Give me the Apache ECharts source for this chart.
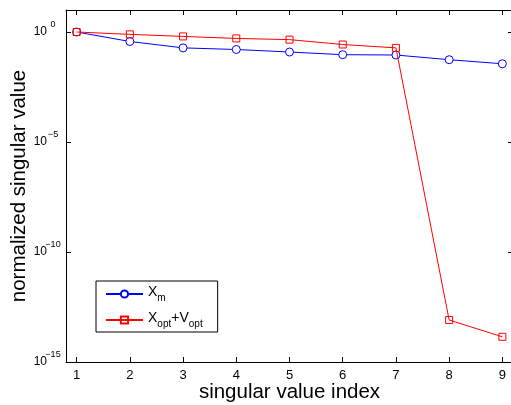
<!DOCTYPE html>
<html>
<head>
<meta charset="utf-8">
<style>
  html, body { margin: 0; padding: 0; background: #fff; }
  #chart { width: 511px; height: 405px; }
</style>
<script src="https://cdn.jsdelivr.net/npm/echarts@6/dist/echarts.min.js"></script>
</head>
<body>
<div id="chart"></div>
<script>
// singular value index
const indices = [1, 2, 3, 4, 5, 6, 7, 8, 9];
// normalized singular values of X_m
const xmValues = [1, 0.37, 0.19, 0.16, 0.123, 0.093, 0.09, 0.055, 0.036];
// normalized singular values of X_opt + V_opt
const xoptValues = [1, 0.78, 0.63, 0.51, 0.45, 0.27, 0.19, 8.1e-14, 1.4e-14];
// decades that carry a tick and label on the y axis
const yTickValues = [1e-15, 1e-10, 1e-5, 1];
const xTickLabels = ['1', '2', '3', '4', '5', '6', '7', '8', '9'];

const FONT = "'Liberation Sans', Arial, Helvetica, sans-serif";

const pairs = (vals) => indices.map((x, i) => [x, vals[i]]);

const legendNames = {
  'X_m': '{b|X}{s|m}',
  'X_opt+V_opt': '{b|X}{s|opt}{b|+V}{s|opt}'
};

const chart = echarts.init(document.getElementById('chart'), null, { renderer: 'canvas' });

const xCommon = {
  type: 'value',
  min: 0.8,
  max: 9.2,
  splitLine: { show: false },
  axisLine: { show: true, onZero: false, lineStyle: { color: '#000', width: 1 } },
  axisTick: { show: true, inside: true, length: 5, customValues: indices, lineStyle: { color: '#000' } }
};
const yCommon = {
  type: 'log',
  logBase: 10,
  min: 1e-15,
  max: 1e1,
  splitLine: { show: false },
  minorTick: { show: false },
  axisLine: { show: true, onZero: false, lineStyle: { color: '#000', width: 1 } },
  axisTick: { show: true, inside: true, length: 5, customValues: yTickValues, lineStyle: { color: '#000' } }
};

chart.setOption({
  animation: false,
  backgroundColor: '#fff',
  textStyle: { fontFamily: FONT },
  grid: { left: 66, top: 10, width: 447, height: 352, containLabel: false, outerBoundsMode: 'none' },
  xAxis: [
    Object.assign({}, xCommon, {
      position: 'bottom',
      name: 'singular value index',
      nameLocation: 'middle',
      nameGap: 20,
      nameMoveOverlap: false,
      nameTextStyle: { fontSize: 20.5, color: '#000', fontFamily: FONT },
      axisLabel: {
        show: true, margin: 7, fontSize: 13, color: '#000', fontFamily: FONT,
        customValues: indices,
        formatter: (v) => xTickLabels[indices.indexOf(Math.round(v))]
      }
    }),
    Object.assign({}, xCommon, {
      position: 'top',
      axisLabel: { show: false }
    })
  ],
  yAxis: [
    Object.assign({}, yCommon, {
      position: 'left',
      name: 'normalized singular value',
      nameLocation: 'middle',
      nameGap: 36.5,
      nameMoveOverlap: false,
      nameTextStyle: { fontSize: 20.5, color: '#000', fontFamily: FONT, verticalAlign: 'bottom' },
      axisLabel: {
        show: true, margin: 7, color: '#000', fontFamily: FONT,
        customValues: yTickValues,
        formatter: (v) => {
          const e = Math.round(Math.log10(v));
          const exp = e < 0 ? '\u2212' + (-e) : String(e);
          return '{m|10}{s|' + exp + '}';
        },
        rich: {
          m: { fontSize: 12, lineHeight: 24, color: '#000', fontFamily: FONT },
          s: { fontSize: 9, verticalAlign: 'top', width: 12, align: 'left', color: '#000', fontFamily: FONT }
        }
      }
    }),
    Object.assign({}, yCommon, {
      position: 'right',
      axisLine: { show: false },
      axisLabel: { show: false }
    })
  ],
  legend: {
    orient: 'vertical',
    left: 96,
    top: 281,
    padding: [4, 15, 3, 9],
    itemGap: 8,
    itemWidth: 37,
    itemHeight: 9,
    backgroundColor: '#fff',
    borderColor: '#000',
    borderWidth: 1,
    borderRadius: 0,
    selectedMode: false,
    data: ['X_m', 'X_opt+V_opt'],
    formatter: (name) => legendNames[name],
    textStyle: {
      color: '#000',
      fontFamily: FONT,
      rich: {
        b: { fontSize: 14, lineHeight: 18, verticalAlign: 'top', color: '#000', fontFamily: FONT },
        s: { fontSize: 10, verticalAlign: 'bottom', color: '#000', fontFamily: FONT }
      }
    }
  },
  series: [
    {
      name: 'X_m',
      type: 'line',
      xAxisIndex: 0,
      yAxisIndex: 0,
      data: pairs(xmValues),
      symbol: 'circle',
      symbolSize: 8,
      showAllSymbol: true,
      lineStyle: { color: '#0000ff', width: 1 },
      itemStyle: { color: '#fff', borderColor: '#0000ff', borderWidth: 1 },
      emphasis: { disabled: true },
      z: 2
    },
    {
      name: 'X_opt+V_opt',
      type: 'line',
      xAxisIndex: 0,
      yAxisIndex: 0,
      data: pairs(xoptValues),
      symbol: 'rect',
      symbolSize: 7,
      showAllSymbol: true,
      lineStyle: { color: '#ff0000', width: 1 },
      itemStyle: { color: 'rgba(255,255,255,0)', borderColor: '#ff0000', borderWidth: 1 },
      emphasis: { disabled: true },
      z: 3
    }
  ]
});
</script>
</body>
</html>
